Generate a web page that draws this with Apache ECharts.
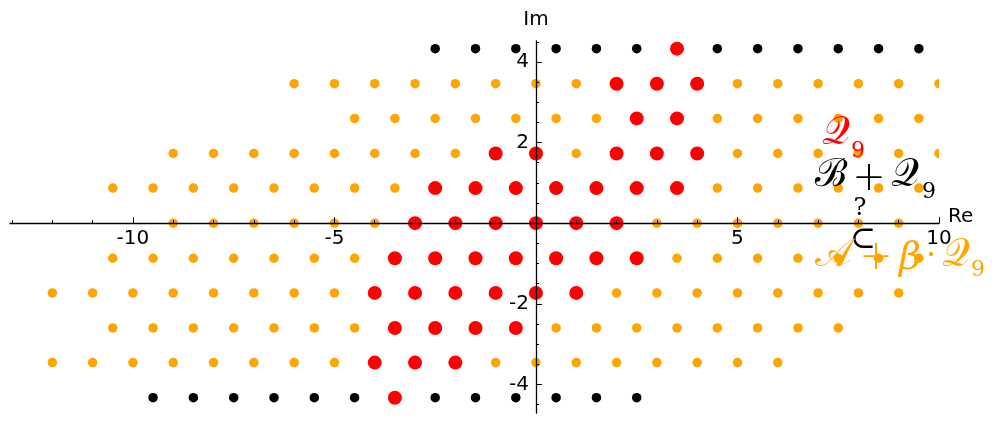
<!DOCTYPE html>
<html>
<head>
<meta charset="utf-8">
<script src="https://cdn.jsdelivr.net/npm/echarts@6/dist/echarts.min.js"></script>
<style>
html,body{margin:0;padding:0;background:#fff;}
#chart{width:994px;height:422px;}
</style>
</head>
<body>
<div id="chart"></div>
<script>
// Lattice rows (imaginary part of each row), top to bottom
const rowY = [4.33, 3.46, 2.6, 1.73, 0.87, 0, -0.87, -1.73, -2.6, -3.46, -4.33];

// Real parts of the red points (Q_9), per row
const redX = [
  [3.5],
  [2, 3, 4],
  [2.5, 3.5],
  [-1, 0, 2, 3, 4],
  [-2.5, -1.5, -0.5, 0.5, 1.5, 2.5, 3.5],
  [-3, -2, -1, 0, 1, 2],
  [-3.5, -2.5, -1.5, -0.5, 0.5, 1.5, 2.5],
  [-4, -3, -2, -1, 0, 1],
  [-3.5, -2.5, -1.5, -0.5],
  [-4, -3, -2],
  [-3.5]
];

// Real parts of the orange points (A + beta*Q_9), per row
const orangeX = [
  [],
  [-6, -5, -4, -3, -2, -1, 0, 1, 5, 6, 7, 8, 9, 10],
  [-4.5, -3.5, -2.5, -1.5, -0.5, 0.5, 1.5, 4.5, 5.5, 6.5, 7.5, 8.5, 9.5],
  [-9, -8, -7, -6, -5, -4, -3, -2, 1, 5, 6, 7, 8, 9, 10],
  [-10.5, -9.5, -8.5, -7.5, -6.5, -5.5, -4.5, -3.5, 4.5, 5.5, 6.5, 7.5, 8.5, 9.5],
  [-9, -8, -7, -6, -5, -4, 3, 4, 5, 6, 7, 8, 9],
  [-10.5, -9.5, -8.5, -7.5, -6.5, -5.5, -4.5, 3.5, 4.5, 5.5, 6.5, 7.5, 8.5, 9.5],
  [-12, -11, -10, -9, -8, -7, -6, -5, 2, 3, 4, 5, 6, 7, 8, 9],
  [-10.5, -9.5, -8.5, -7.5, -6.5, -5.5, -4.5, 0.5, 1.5, 2.5, 3.5, 4.5, 5.5, 6.5, 7.5],
  [-12, -11, -10, -9, -8, -7, -6, -5, -1, 0, 1, 2, 3, 4, 5, 6],
  []
];

// Real parts of the black points (B + Q_9), per row
const blackX = [
  [-2.5, -1.5, -0.5, 0.5, 1.5, 2.5, 4.5, 5.5, 6.5, 7.5, 8.5, 9.5],
  [], [], [], [], [], [], [], [], [],
  [-9.5, -8.5, -7.5, -6.5, -5.5, -4.5, -2.5, -1.5, -0.5, 0.5, 1.5, 2.5]
];

// Axis ticks and labels
const xMinorTicks = [-13, -12, -11, -10, -9, -8, -7, -6, -5, -4, -3, -2, -1, 0, 1, 2, 3, 4, 5, 6, 7, 8, 9, 10];
const xMajorTicks = [-10, -5, 5, 10];
const xLabels = [-10, -5, 5, 10];
const yMinorTicks = [-4.5, -4, -3.5, -3, -2.5, -2, -1.5, -1, -0.5, 0.5, 1, 1.5, 2, 2.5, 3, 3.5, 4, 4.5];
const yMajorTicks = [-4, -2, 2, 4];
const yLabels = [-4, -2, 2, 4];

function toPoints(lists) {
  const out = [];
  lists.forEach((xs, i) => xs.forEach(x => out.push([x, rowY[i]])));
  return out;
}

const FONT = 'DejaVu Sans';
const MATH = "'DejaVu Serif', 'Noto Sans', serif";
const W = 994, H = 422;
const G = {left: 10, right: 55, top: 41, bottom: 9};
const xRange = {min: -13.05, max: 10};
const yRange = {min: -4.71, max: 4.52};

// place axes through the origin (offset from grid edge to value 0)
const gridW = W - G.left - G.right, gridH = H - G.top - G.bottom;
const xAxisOffset = -gridH * (0 - yRange.min) / (yRange.max - yRange.min);
const yAxisOffset = -gridW * (0 - xRange.min) / (xRange.max - xRange.min);

const chart = echarts.init(document.getElementById('chart'), null, {renderer: 'canvas'});

const baseX = {type: 'value', min: xRange.min, max: xRange.max, position: 'bottom', offset: xAxisOffset, z: 10, splitLine: {show: false}};
const baseY = {type: 'value', min: yRange.min, max: yRange.max, position: 'left', offset: yAxisOffset, z: 10, splitLine: {show: false}};

const labelFont = {color: '#000', fontSize: 20, fontFamily: FONT};

const option = {
  animation: false,
  backgroundColor: '#ffffff',
  grid: Object.assign({outerBoundsMode: 'none', containLabel: false}, G),
  xAxis: [
    Object.assign({}, baseX, {
      axisLine: {onZero: false, lineStyle: {color: '#000', width: 1.3}},
      axisTick: {show: true, inside: true, length: 3, customValues: xMinorTicks, lineStyle: {color: '#000', width: 1}},
      axisLabel: Object.assign({show: true, customValues: xLabels, margin: 6}, labelFont),
      name: 'Re', nameLocation: 'end', nameGap: 9,
      nameTextStyle: Object.assign({verticalAlign: 'bottom', lineHeight: 12}, labelFont)
    }),
    Object.assign({}, baseX, {
      axisLine: {show: false, onZero: false},
      axisTick: {show: true, inside: true, length: 6, customValues: xMajorTicks, lineStyle: {color: '#000', width: 1}},
      axisLabel: {show: false}
    })
  ],
  yAxis: [
    Object.assign({}, baseY, {
      axisLine: {onZero: false, lineStyle: {color: '#000', width: 1.3}},
      axisTick: {show: true, inside: true, length: 3, customValues: yMinorTicks, lineStyle: {color: '#000', width: 1}},
      axisLabel: Object.assign({show: true, customValues: yLabels, margin: 7}, labelFont),
      name: 'Im', nameLocation: 'end', nameGap: 11,
      nameTextStyle: labelFont
    }),
    Object.assign({}, baseY, {
      axisLine: {show: false, onZero: false},
      axisTick: {show: true, inside: true, length: 6, customValues: yMajorTicks, lineStyle: {color: '#000', width: 1}},
      axisLabel: {show: false}
    })
  ],
  series: [
    {
      type: 'custom', name: 'A+βQ9', data: toPoints(orangeX), clip: true, z: 2, silent: true,
      renderItem: function (params, api) {
        const p = api.coord([api.value(0), api.value(1)]);
        return {type: 'circle', shape: {cx: p[0], cy: p[1], r: 4.75}, style: {fill: '#ffa500'}};
      }
    },
    {type: 'scatter', name: 'B+Q9', data: toPoints(blackX), symbol: 'circle', symbolSize: 9.5,
     itemStyle: {color: '#000000', opacity: 1}, z: 2, silent: true},
    {type: 'scatter', name: 'Q9', data: toPoints(redX), symbol: 'circle', symbolSize: 14,
     itemStyle: {color: '#ff0000', opacity: 1}, z: 3, silent: true}
  ],
  graphic: [
    // Q_9 (red)
    {type: 'text', x: 836, y: 134, z: 100, style: {text: '𝒬', fill: '#ff0000', font: '39px ' + MATH, align: 'center', verticalAlign: 'middle'}},
    {type: 'text', x: 858, y: 151, z: 100, style: {text: '9', fill: '#ff0000', font: '22px ' + MATH, align: 'center', verticalAlign: 'middle'}},
    // B + Q_9 (black)
    {type: 'text', x: 831, y: 176, z: 100, style: {text: 'ℬ', fill: '#000', font: '39px ' + MATH, align: 'center', verticalAlign: 'middle'}},
    {type: 'text', x: 869, y: 180, z: 100, style: {text: '+', fill: '#000', font: '200 40px "DejaVu Sans"', align: 'center', verticalAlign: 'middle'}},
    {type: 'text', x: 905, y: 176, z: 100, style: {text: '𝒬', fill: '#000', font: '39px ' + MATH, align: 'center', verticalAlign: 'middle'}},
    {type: 'text', x: 929, y: 192, z: 100, style: {text: '9', fill: '#000', font: '22px ' + MATH, align: 'center', verticalAlign: 'middle'}},
    // ?  over  subset
    {type: 'text', x: 860, y: 209, z: 100, style: {text: '?', fill: '#000', font: '24px ' + MATH, align: 'center', verticalAlign: 'middle'}},
    {type: 'text', x: 863, y: 240, z: 100, style: {text: '⊂', fill: '#000', font: '31px ' + MATH, align: 'center', verticalAlign: 'middle'}},
    // A + beta . Q_9 (orange)
    {type: 'text', x: 833, y: 256, z: 100, style: {text: '𝒜', fill: '#ffa500', font: '39px ' + MATH, align: 'center', verticalAlign: 'middle'}},
    {type: 'text', x: 876, y: 259, z: 100, style: {text: '+', fill: '#ffa500', font: '200 40px "DejaVu Sans"', align: 'center', verticalAlign: 'middle'}},
    {type: 'text', x: 910, y: 259, z: 100, style: {text: 'β', fill: '#ffa500', font: 'italic 38px ' + MATH, align: 'center', verticalAlign: 'middle'}},
    {type: 'text', x: 931, y: 257, z: 100, style: {text: '·', fill: '#ffa500', font: '32px ' + MATH, align: 'center', verticalAlign: 'middle'}},
    {type: 'text', x: 956, y: 256, z: 100, style: {text: '𝒬', fill: '#ffa500', font: '39px ' + MATH, align: 'center', verticalAlign: 'middle'}},
    {type: 'text', x: 978, y: 270, z: 100, style: {text: '9', fill: '#ffa500', font: '22px ' + MATH, align: 'center', verticalAlign: 'middle'}}
  ]
};
chart.setOption(option);
</script>
</body>
</html>
